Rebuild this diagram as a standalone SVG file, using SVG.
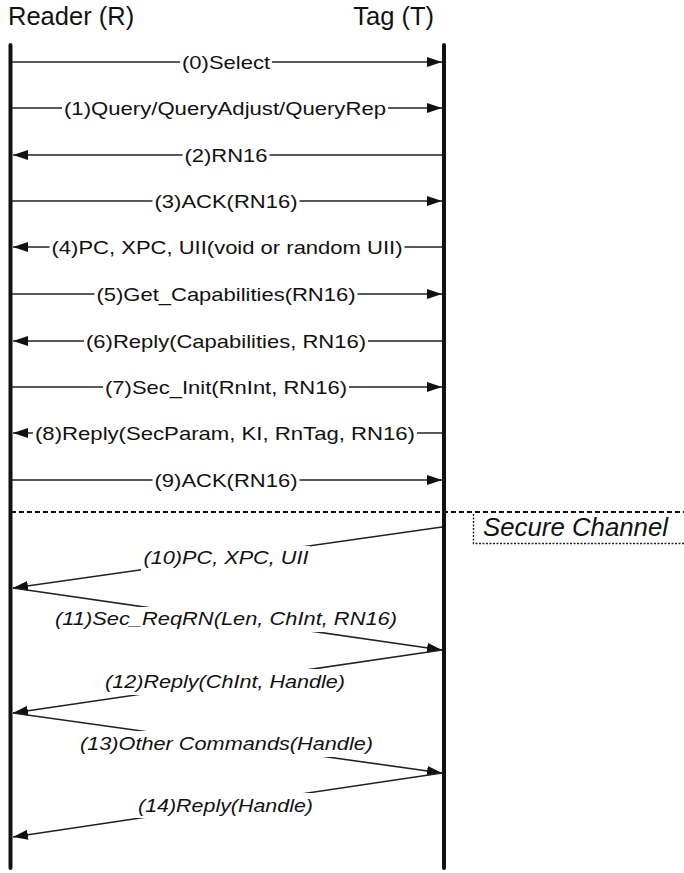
<svg xmlns="http://www.w3.org/2000/svg" width="684" height="873" viewBox="0 0 684 873">
<style>
.title{font-family:"Liberation Sans",Arial,sans-serif;font-size:25.5px;fill:#111}
.lbl{font-family:"Liberation Sans",Arial,sans-serif;font-size:19px;fill:#111;text-anchor:middle}
.it{font-style:italic}
.life{stroke:#111;stroke-width:4;stroke-linecap:round;fill:none}
.msg{stroke:#222;stroke-width:1.6;fill:none;marker-end:url(#ah)}
.bg{fill:#fff}
</style>
<defs>
<marker id="ah" markerUnits="userSpaceOnUse" markerWidth="16" markerHeight="11" refX="15" refY="5" orient="auto">
<path d="M0,0 L15,5 L0,10 z" fill="#111"/>
</marker>
</defs>
<rect width="684" height="873" fill="#fff"/>
<g id="reader">
<text class="title" x="8" y="25">Reader (R)</text>
<line class="life" x1="10.5" y1="45" x2="10.5" y2="868"/>
</g>
<g id="tag">
<text class="title" x="434" y="25" text-anchor="end">Tag (T)</text>
<line class="life" x1="444" y1="45" x2="444" y2="868"/>
</g>
<g id="secure-channel">
<line x1="11" y1="512" x2="684" y2="512" stroke="#111" stroke-width="2" stroke-dasharray="5 3"/>
<path d="M473.5,514 V543.5 H684" fill="none" stroke="#222" stroke-width="1.4" stroke-dasharray="2 1.5"/>
<text class="title it" x="483" y="536" textLength="185" lengthAdjust="spacingAndGlyphs">Secure Channel</text>
</g>
<g id="connectors">
<g id="m0"><path class="msg" d="M12,62 H442"/><rect class="bg" x="180" y="50" width="92" height="24"/><text class="lbl" x="226" y="69" textLength="88" lengthAdjust="spacingAndGlyphs">(0)Select</text></g>
<g id="m1"><path class="msg" d="M12,108 H442"/><rect class="bg" x="62" y="96" width="326" height="24"/><text class="lbl" x="225" y="115" textLength="322" lengthAdjust="spacingAndGlyphs">(1)Query/QueryAdjust/QueryRep</text></g>
<g id="m2"><path class="msg" d="M442,155 H13"/><rect class="bg" x="182.5" y="143" width="87" height="24"/><text class="lbl" x="226" y="162" textLength="83" lengthAdjust="spacingAndGlyphs">(2)RN16</text></g>
<g id="m3"><path class="msg" d="M12,201 H442"/><rect class="bg" x="152.5" y="189" width="147" height="24"/><text class="lbl" x="226" y="208" textLength="143" lengthAdjust="spacingAndGlyphs">(3)ACK(RN16)</text></g>
<g id="m4"><path class="msg" d="M442,247 H13"/><rect class="bg" x="49.5" y="235" width="355" height="24"/><text class="lbl" x="227" y="254" textLength="351" lengthAdjust="spacingAndGlyphs">(4)PC, XPC, UII(void or random UII)</text></g>
<g id="m5"><path class="msg" d="M12,294 H442"/><rect class="bg" x="94.5" y="282" width="263" height="24"/><text class="lbl" x="226" y="301" textLength="259" lengthAdjust="spacingAndGlyphs">(5)Get_Capabilities(RN16)</text></g>
<g id="m6"><path class="msg" d="M442,341 H13"/><rect class="bg" x="84" y="329" width="284" height="24"/><text class="lbl" x="226" y="348" textLength="280" lengthAdjust="spacingAndGlyphs">(6)Reply(Capabilities, RN16)</text></g>
<g id="m7"><path class="msg" d="M12,387 H442"/><rect class="bg" x="103" y="375" width="246" height="24"/><text class="lbl" x="226" y="394" textLength="242" lengthAdjust="spacingAndGlyphs">(7)Sec_Init(RnInt, RN16)</text></g>
<g id="m8"><path class="msg" d="M442,433 H13"/><rect class="bg" x="33" y="421" width="384" height="24"/><text class="lbl" x="225" y="440" textLength="380" lengthAdjust="spacingAndGlyphs">(8)Reply(SecParam, KI, RnTag, RN16)</text></g>
<g id="m9"><path class="msg" d="M12,480 H442"/><rect class="bg" x="152.5" y="468" width="147" height="24"/><text class="lbl" x="226" y="487" textLength="143" lengthAdjust="spacingAndGlyphs">(9)ACK(RN16)</text></g>
<g id="m10"><path class="msg" d="M442,527 L13,588"/><rect class="bg" x="141" y="546" width="169" height="25"/><text class="lbl it" x="226" y="564" textLength="165" lengthAdjust="spacingAndGlyphs">(10)PC, XPC, UII</text></g>
<g id="m11"><path class="msg" d="M13,588 L442,650"/><rect class="bg" x="53" y="607" width="346" height="25"/><text class="lbl it" x="226" y="625" textLength="342" lengthAdjust="spacingAndGlyphs">(11)Sec_ReqRN(Len, ChInt, RN16)</text></g>
<g id="m12"><path class="msg" d="M442,650 L13,713"/><rect class="bg" x="103" y="669" width="244" height="26"/><text class="lbl it" x="225" y="688" textLength="240" lengthAdjust="spacingAndGlyphs">(12)Reply(ChInt, Handle)</text></g>
<g id="m13"><path class="msg" d="M13,713 L442,773"/><rect class="bg" x="78" y="731" width="297" height="26"/><text class="lbl it" x="226.5" y="750" textLength="293" lengthAdjust="spacingAndGlyphs">(13)Other Commands(Handle)</text></g>
<g id="m14"><path class="msg" d="M442,773 L13,837"/><rect class="bg" x="136" y="793" width="179" height="25"/><text class="lbl it" x="225.5" y="812" textLength="175" lengthAdjust="spacingAndGlyphs">(14)Reply(Handle)</text></g>
</g>
</svg>
